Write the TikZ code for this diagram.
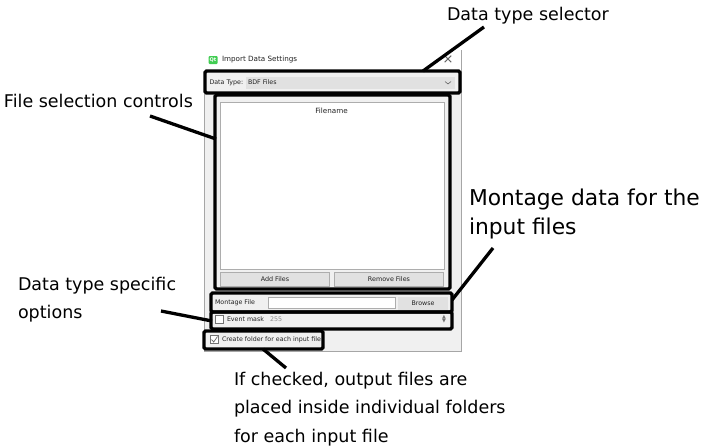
\documentclass[tikz,border=0pt]{standalone}
\usepackage{fontspec}
\setmainfont{DejaVu Sans}
\definecolor{winbg}{HTML}{F0F0F0}
\definecolor{ctl}{HTML}{E1E1E1}
\definecolor{ctlb}{HTML}{ADADAD}
\definecolor{txt}{HTML}{222222}
\definecolor{qtg}{HTML}{41CD52}
\tikzset{
  every node/.style={inner sep=0pt,outer sep=0pt},
  callout/.style={draw=black,line width=3.3pt,rounded corners=1.5pt},
  leader/.style={draw=black,line width=3.3pt},
  note/.style={font=\fontsize{17.5}{28.4}\selectfont,align=left,anchor=north west},
  bignote/.style={font=\fontsize{21.8}{29}\selectfont,align=left,anchor=north west},
  ui/.style={font=\fontsize{6.3}{8}\selectfont,text=txt},
  btn/.style={draw=ctlb,fill=ctl,line width=.6pt,ui},
}
\begin{document}
\begin{tikzpicture}[x=1pt,y=-1pt]
\useasboundingbox (0,0) rectangle (706,447);
% window
\path[draw=black!35,fill=winbg,line width=.7pt] (204,50) rectangle (461,351);
\path[fill=white] (204.4,50.4) rectangle (460.6,71);
\node[fill=qtg,rounded corners=1pt,minimum width=9pt,minimum height=8pt,font=\fontsize{5}{5}\selectfont\bfseries,text=white] (qt) at (213,60) {Qt};
\node[anchor=west,font=\fontsize{7.2}{9}\selectfont,text=txt] (title) at (222,60) {Import Data Settings};
\node[font=\fontsize{13}{13}\selectfont,text=black!65] (close) at (448,60) {×};
% data type row
\node[anchor=west,ui] (dtlabel) at (209.5,82.5) {Data Type:};
\node[btn,anchor=west,minimum width=209pt,minimum height=12pt,draw=none] (combo) at (246,82.5) {};
\node[anchor=west,ui] (dtvalue) at (248,82.5) {BDF Files};
\coordinate (ch1) at (445,81.5);
\coordinate (ch2) at (448,84);
\coordinate (ch3) at (451,81.5);
\draw[black!60,line width=.6pt] (ch1) -- (ch2) -- (ch3);
% file list
\node[draw=ctlb,fill=white,line width=1pt,minimum width=224pt,minimum height=167pt,anchor=north west] (list) at (220,102) {};
\node[font=\fontsize{7.2}{9}\selectfont,text=txt] (fname) at (331.5,111) {Filename};
\node[btn,minimum width=109pt,minimum height=14pt,font=\fontsize{6.4}{8}\selectfont] (add) at (275,279.5) {Add Files};
\node[btn,minimum width=109pt,minimum height=14pt,font=\fontsize{6.4}{8}\selectfont] (remove) at (389,279.5) {Remove Files};
% montage row
\node[anchor=west,ui] (mlabel) at (215,303) {Montage File};
\node[draw=ctlb,fill=white,line width=.6pt,minimum width=127pt,minimum height=11pt,anchor=west] (mfield) at (268.5,303) {};
\node[btn,minimum width=50pt,minimum height=13pt,draw=none] (browse) at (423,303) {Browse};
% event mask
\node[draw=black!55,fill=white,line width=.6pt,minimum size=8pt] (evcheck) at (219.5,319.5) {};
\node[anchor=west,ui] (evlabel) at (227,319.5) {Event mask};
\node[anchor=west,ui,text=black!45] (evvalue) at (270,319.5) {255};
\node[font=\fontsize{5}{4}\selectfont,text=black!55,align=center] (spin) at (444,319.5) {▲\\▼};
% create folder
\node[draw=black!55,fill=white,line width=.6pt,minimum size=8pt] (crcheck) at (214.5,339.5) {};
\draw[black!60,line width=.7pt] (211.5,339.5) -- (213.7,342) -- (217.5,336.5);
\node[anchor=west,ui] (crlabel) at (222,339.5) {Create folder for each input file};
% highlight boxes
\node[callout,minimum width=255pt,minimum height=22pt,anchor=north west] (bdata) at (205,71) {};
\node[callout,minimum width=235pt,minimum height=194pt,anchor=north west] (bfiles) at (215,95) {};
\node[callout,minimum width=241pt,minimum height=19pt,anchor=north west] (bmont) at (211,293) {};
\node[callout,minimum width=241pt,minimum height=17pt,anchor=north west] (bmask) at (211,312) {};
\node[callout,minimum width=119pt,minimum height=18pt,anchor=north west] (bcreate) at (204,331) {};
% annotations
\node[note] (n1) at (447,7) {Data type selector};
\node[note] (n2) at (4,94) {File selection controls};
\node[bignote] (n3) at (469,189) {Montage data for the\\input files};
\node[note] (n4) at (18,277) {Data type specific\\options};
\node[note] (n5) at (234,372) {If checked, output files are\\placed inside individual folders\\for each input file};
% leader ends
\coordinate (l1) at (484,27);
\coordinate (l1e) at (423,71);
\coordinate (l2) at (150,116);
\coordinate (l2e) at (216,139);
\coordinate (l3) at (493,248);
\coordinate (l3e) at (452,300);
\coordinate (l4) at (161,311);
\coordinate (l4e) at (212,321);
\coordinate (l5) at (286,368);
\coordinate (l5e) at (263,349);
\draw[leader] (l1) -- (l1e);
\draw[leader] (l2) -- (l2e);
\draw[leader] (l3) -- (l3e);
\draw[leader] (l4) -- (l4e);
\draw[leader] (l5) -- (l5e);
\end{tikzpicture}
\end{document}
